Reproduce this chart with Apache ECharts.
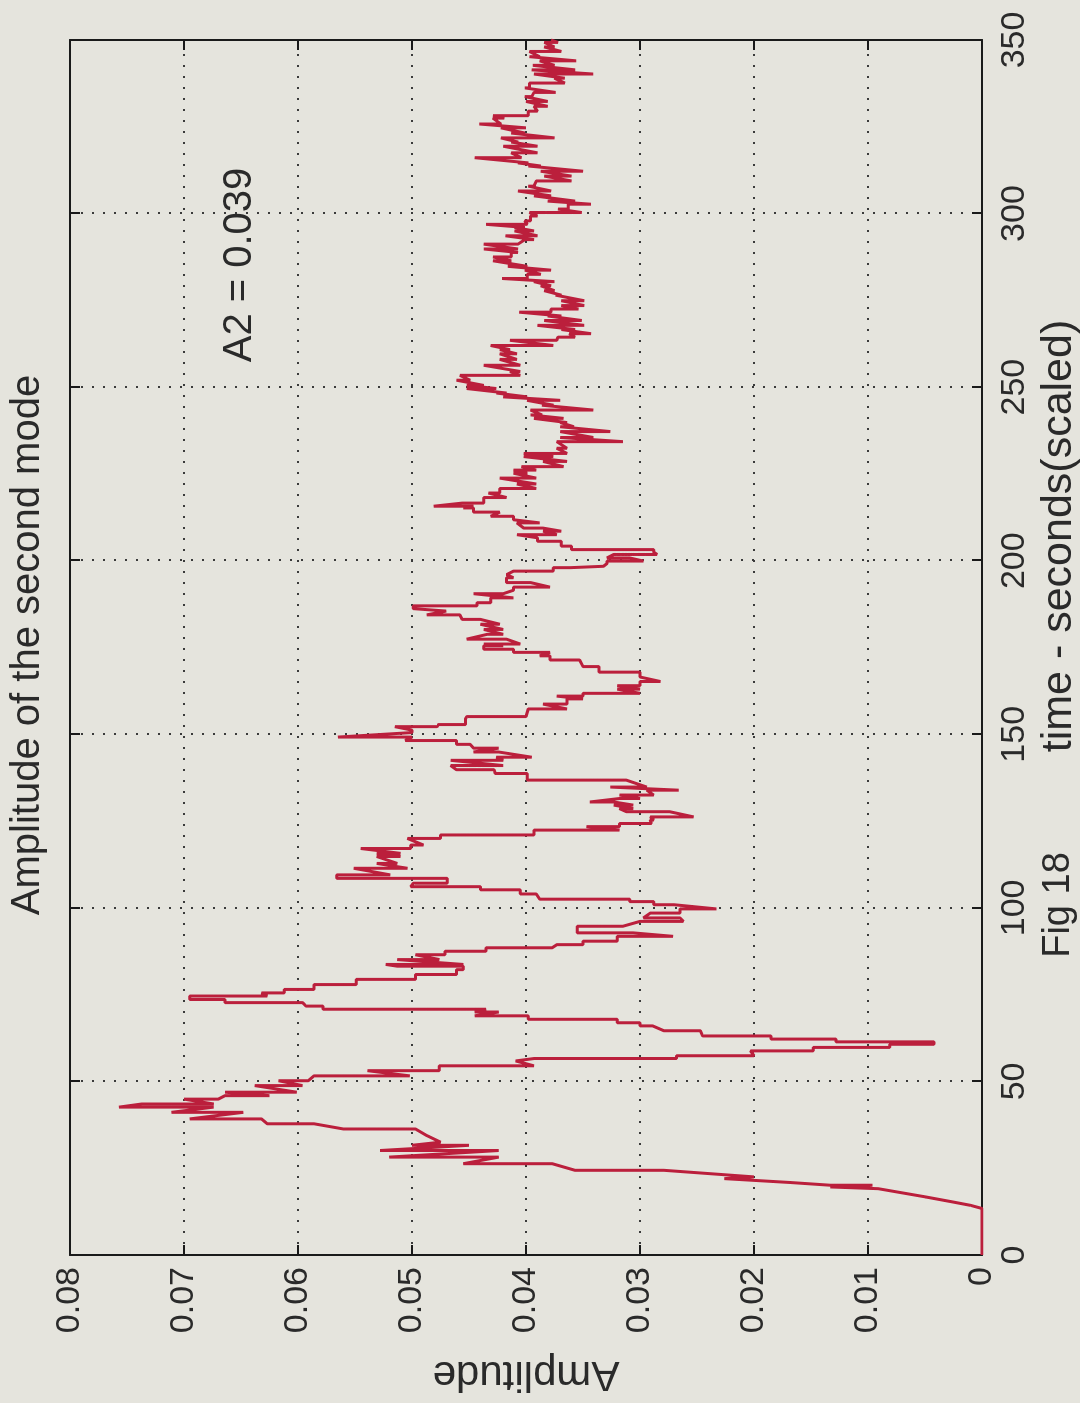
<!DOCTYPE html>
<html><head><meta charset="utf-8">
<script src="https://cdn.jsdelivr.net/npm/echarts@6/dist/echarts.min.js"></script>
<style>
html,body{margin:0;padding:0;width:1080px;height:1403px;overflow:hidden;background:#e5e4dd;}
#chart{position:absolute;left:0;top:0;width:1403px;height:1080px;transform-origin:0 0;transform:translateY(1403px) rotate(-90deg);}
</style></head><body><div id="chart"></div>
<script>
// time (scaled seconds) vs amplitude of the second mode
const amplitudeSeries = [
[0,0],[13.4,0],[14.3,0.001],[15.3,0.0026],[16.7,0.0049],[17.9,0.007],[19.1,0.0091],[19.6,0.0133],[20.1,0.0096],[20.1,0.0133],[20.9,0.0169],[22.0,0.0226],[22.5,0.020],[24.4,0.0279],[24.4,0.0357],[26.3,0.0377],[26.3,0.0455],[28.2,0.0424],[28.2,0.052],[30.1,0.0424],[30.1,0.0528],[31.6,0.045],[31.6,0.050],[32.5,0.0475],[34.4,0.0487],[36.3,0.0497],[36.3,0.056],[37.8,0.0586],[37.8,0.0627],[39.2,0.0632],[39.2,0.0695],[41.1,0.0648],[41.1,0.0711],[42.6,0.0674],[42.6,0.0757],[43.5,0.0737],[43.5,0.0674],[44.9,0.070],[44.9,0.067],[45.9,0.0664],[45.9,0.0625],[46.9,0.0664],[46.9,0.0601],[48.8,0.0638],[48.8,0.0596],[50.2,0.0617],[50.2,0.0591],[51.6,0.0586],[51.6,0.0502],[53.1,0.0539],[53.1,0.0476],[54.5,0.0476],[54.5,0.0393],[55.9,0.0409],[56.6,0.0393],[56.6,0.0268],[57.4,0.0268],[57.4,0.020],[58.8,0.0203],[58.8,0.0148],[59.8,0.0148],[59.8,0.0081],[60.7,0.0081],[60.7,0.0042],[61.4,0.0042],[61.4,0.0128],[62.2,0.0128],[62.2,0.0185],[63.1,0.0185],[63.1,0.0245],[64.6,0.0247],[64.6,0.0279],[66.0,0.0289],[66.0,0.030],[66.9,0.030],[66.9,0.032],[67.9,0.032],[67.9,0.0398],[68.9,0.0398],[68.9,0.0445],[70.0,0.0424],[70.0,0.0445],[70.8,0.0435],[70.8,0.0578],[71.7,0.0578],[71.7,0.0593],[72.7,0.0596],[72.7,0.0664],[73.6,0.0664],[73.6,0.0695],[74.6,0.0695],[74.6,0.0627],[75.5,0.0632],[75.5,0.0612],[76.5,0.0612],[76.5,0.0586],[77.9,0.0586],[77.9,0.0549],[79.4,0.0549],[79.4,0.0497],[80.8,0.0497],[80.8,0.0461],[82.2,0.0461],[82.2,0.0455],[83.2,0.0455],[83.2,0.0513],[83.7,0.0523],[83.7,0.0455],[85.1,0.0513],[85.1,0.0476],[86.5,0.0497],[86.5,0.0471],[87.5,0.0471],[87.5,0.0435],[88.5,0.0435],[88.5,0.0377],
[89.4,0.0373],[89.4,0.035],[90.4,0.035],[90.4,0.032],[91.8,0.032],[91.8,0.0271],[92.8,0.0306],[92.8,0.0355],[94.7,0.0355],[94.7,0.0315],[96.1,0.030],[96.1,0.0262],[97.1,0.0265],[97.1,0.0297],[98.5,0.0291],[98.5,0.0265],[99.7,0.0265],[99.7,0.0233],[100.9,0.027],[100.9,0.0288],[101.8,0.0288],[101.8,0.0309],[102.5,0.0309],[102.5,0.0388],[104.0,0.0391],[104.0,0.0405],[105.2,0.0405],[105.2,0.044],[106.1,0.044],[106.1,0.0501],[107.1,0.0499],[107.1,0.0469],[108.5,0.0469],[108.5,0.0566],[109.5,0.0566],[109.5,0.0519],[111.4,0.0551],[111.4,0.0504],[112.8,0.0531],[112.8,0.0513],[114.8,0.0531],[114.8,0.051],[115.7,0.0531],[115.7,0.051],[117.1,0.0545],[117.1,0.0501],[118.1,0.0501],[118.1,0.049],[120.0,0.0504],[120.0,0.0475],[121.0,0.0475],[121.0,0.0393],[122.4,0.0393],[122.4,0.0318],[123.4,0.0347],[123.4,0.0318],[124.3,0.0318],[124.3,0.029],[125.3,0.0291],[125.3,0.0288],[126.2,0.0291],[126.2,0.0253],[127.7,0.0274],[127.7,0.0312],[128.6,0.0318],[128.6,0.0306],[129.6,0.0323],[129.6,0.0306],[130.5,0.0323],[130.5,0.0344],[131.5,0.0318],[131.5,0.030],[132.5,0.0318],[132.5,0.0288],[133.9,0.0294],[133.9,0.0266],[134.8,0.0326],[134.8,0.0294],
[136.8,0.0312],[136.8,0.0399],[138.7,0.0399],[138.7,0.0427],[139.8,0.0428],[139.8,0.0461],[141.0,0.0466],[141.0,0.042],[142.5,0.0466],[142.5,0.042],[143.4,0.0426],[143.4,0.0395],[144.9,0.0424],[144.9,0.0446],[146.0,0.0424],[146.0,0.0446],[147.1,0.0449],[147.1,0.0461],[148.2,0.0461],[148.2,0.0506],[149.2,0.0500],[149.2,0.0565],[150.5,0.050],[151.2,0.050],[152.2,0.0515],[152.2,0.0478],[152.8,0.0477],[152.8,0.0453],[154.5,0.0453],[155.1,0.0452],[155.1,0.040],[157.3,0.0398],[157.3,0.0364],[158.7,0.0385],[158.7,0.0364],[160.2,0.0364],[160.2,0.035],[161.0,0.0373],[161.0,0.035],[161.8,0.035],[161.8,0.030],[163.0,0.032],[163.0,0.030],[164.0,0.032],[164.0,0.030],[165.2,0.030],[165.2,0.0282],[166.5,0.030],[167.9,0.030],[167.9,0.0336],[169.5,0.0336],[169.5,0.035],[171.4,0.0353],[171.4,0.0379],[172.6,0.0379],[172.6,0.0388],[173.6,0.0379],[173.6,0.0411],[174.5,0.0411],[174.5,0.0437],[175.5,0.0437],[175.5,0.042],
[176.0,0.0437],[176.0,0.0405],[177.4,0.0417],[177.4,0.0452],[178.8,0.0434],[178.8,0.042],[180.2,0.0437],[180.2,0.042],[181.7,0.044],[181.7,0.0423],[183.1,0.044],[183.1,0.0456],[184.4,0.0458],[184.4,0.0487],[185.5,0.0470],[186.2,0.0499],[187.0,0.0499],[187.0,0.0443],[187.9,0.0443],[187.9,0.0431],[189.3,0.0431],[189.3,0.0411],[190.5,0.0446],[190.5,0.042],[191.5,0.0411],[192.4,0.0411],[192.4,0.0379],[193.7,0.0396],[193.7,0.0417],[195.1,0.0417],[195.1,0.0411],[196.0,0.0417],[197.0,0.0411],[197.0,0.0376],[198.0,0.0376],[198.0,0.0361],[198.4,0.0361],[198.4,0.0332],[199.2,0.0329],[199.9,0.0329],[199.9,0.0297],[200.8,0.0309],[200.8,0.0329],[201.8,0.0323],[201.8,0.0285],[202.5,0.0288],[203.2,0.0288],[203.2,0.036],[204.2,0.036],[204.2,0.0369],[205.6,0.0369],[205.6,0.039],[206.6,0.039],[207.5,0.0408],[207.5,0.0373],[208.5,0.0385],[208.5,0.0369],[209.4,0.0385],[209.4,0.0402],[210.9,0.0408],[210.9,0.0388],[211.8,0.0411],[212.8,0.0411],[212.8,0.0431],[214.0,0.0423],[214.0,0.0446],[215.2,0.0446],[215.2,0.0455],[215.7,0.0446],[215.7,0.0481],[216.6,0.0456],[216.6,0.0437],[218.2,0.0437],[218.2,0.0417],
[219.5,0.0433],[219.5,0.0423],[220.8,0.0423],[220.8,0.0391],[222.1,0.0408],[222.1,0.0391],[223.8,0.0423],[223.8,0.0391],[225.2,0.0411],[225.2,0.0399],[226.1,0.0411],[226.1,0.0391],[227.1,0.0404],[227.1,0.0367],[228.6,0.0385],[228.6,0.0364],[230.0,0.0402],[230.0,0.0376],[230.9,0.0402],[230.9,0.0364],[232.4,0.0373],[232.4,0.0364],[234.3,0.0373],[234.3,0.0315],[235.5,0.037],[235.5,0.0341],[237.2,0.037],[237.2,0.0326],[238.6,0.037],[238.6,0.0358],[239.8,0.037],[239.8,0.0364],[241.0,0.0393],[241.0,0.0367],[242.0,0.0396],[242.0,0.0386],[243.4,0.0396],[243.4,0.0341],[244.8,0.0386],[244.8,0.0376],[246.2,0.0399],[246.2,0.037],[247.2,0.042],[247.2,0.0399],[248.3,0.0426],[248.3,0.0417],[249.6,0.0452],[249.6,0.0426],[250.5,0.0452],[250.5,0.0437],[252.0,0.0461],[252.0,0.0449],[253.4,0.0458],[253.4,0.0405],[254.5,0.0414],[254.5,0.0405],[256.3,0.0437],[256.3,0.0405],[258.0,0.0423],[258.0,0.0408],[259.6,0.0423],[259.6,0.0408],[260.8,0.0423],[260.8,0.0414],[262.0,0.0431],[262.0,0.0376],[263.5,0.0414],[263.5,0.0373],
[264.4,0.0372],[264.4,0.0357],[265.4,0.0362],[265.4,0.0343],[266.6,0.0369],[266.6,0.0357],[267.8,0.039],[267.8,0.0349],[269.2,0.0384],[269.2,0.0351],[270.5,0.0381],[270.5,0.0369],[271.6,0.0406],[271.6,0.0378],[272.5,0.0378],[272.5,0.0354],[273.5,0.0369],[273.5,0.0349],[274.9,0.0369],[274.9,0.0349],[276.5,0.0374],[276.5,0.0369],[277.8,0.0384],[277.8,0.0375],[279.2,0.0387],[279.2,0.0378],[280.4,0.0393],[280.4,0.0375],[281.3,0.0421],[281.3,0.0399],[282.5,0.0399],[282.5,0.0387],[283.7,0.0401],[283.7,0.0378],[284.8,0.0416],[284.8,0.0399],[286.4,0.0429],[286.4,0.0413],[287.5,0.0429],[287.5,0.0413],[288.8,0.0413],[288.8,0.0407],[289.8,0.0437],[289.8,0.0407],[291.2,0.0437],[291.2,0.0407],[292.5,0.0401],[292.5,0.0393],[293.6,0.0418],[293.6,0.039],[295.0,0.041],[295.0,0.0393],[296.0,0.041],[296.0,0.0401],[296.9,0.0435],[296.9,0.0399],[297.9,0.0401],[297.9,0.0396],[299.3,0.0396],[299.3,0.039],[300.3,0.0397],[300.3,0.0351],[301.3,0.0372],[301.3,0.0363],[302.7,0.0363],[302.7,0.0343],[303.6,0.0381],[303.6,0.0357],
[305.1,0.0393],[305.1,0.0378],[306.5,0.0407],[306.5,0.0378],[307.9,0.0398],[307.9,0.0393],[309.4,0.0391],[309.4,0.036],[310.8,0.0384],[310.8,0.036],[312.2,0.0387],[312.2,0.035],[313.7,0.0398],[313.7,0.0387],[314.6,0.0407],[314.6,0.0398],[316.1,0.0445],[316.1,0.0404],[317.5,0.0413],[317.5,0.039],[319.4,0.042],[319.4,0.039],[320.6,0.0413],[320.6,0.0407],[321.8,0.0422],[321.8,0.0375],[323.2,0.0413],[323.2,0.0401],[324.7,0.0422],[324.7,0.040],[325.8,0.0441],[325.8,0.0422],[327.5,0.0429],[327.5,0.0419],[328.2,0.0429],[328.2,0.0398],[329.5,0.0398],[329.5,0.039],[330.9,0.0393],[330.9,0.0381],[332.3,0.040],[332.3,0.0381],[333.7,0.0401],[333.7,0.0395],[334.9,0.0393],[334.9,0.0374],[336.2,0.0401],[336.2,0.0397],[337.6,0.0397],[337.6,0.0366],[339.0,0.0375],[339.0,0.0366],[340.2,0.0393],[340.2,0.0341],[341.4,0.0395],[341.4,0.0357],[342.7,0.0394],[342.7,0.0375],[344.0,0.0388],[344.0,0.0356],[345.2,0.0397],[345.2,0.0388],[346.7,0.0397],[346.7,0.0369],[348.0,0.0384],[348.0,0.0375],[349.3,0.0384],[349.3,0.0372],[350,0.0378]
];
const timeTickLabels = ['0','50','100','150','200','250','300','350'];
const ampTickLabels = ['0','0.01','0.02','0.03','0.04','0.05','0.06','0.07','0.08'];
const titleText = 'Amplitude of the second mode';
const xLabelText = 'time - seconds(scaled)';
const yLabelText = 'Amplitude';
const captionText = 'Fig 18';
const noteText = 'A2 = 0.039';

const FONT = '"Liberation Sans", Arial, sans-serif';
const TXT = '#2a2a2a';
const chart = echarts.init(document.getElementById('chart'), null, {renderer: 'canvas'});
const gridLine = {show: true, lineStyle: {color: '#3a3a3a', width: 2, type: [2, 9]}};
const axisLineStyle = {show: true, onZero: false, lineStyle: {color: '#1a1a1a', width: 2}};
const tickStyle = {show: true, inside: true, length: 10, lineStyle: {color: '#1a1a1a', width: 2}};
const ampFormatter = v => ampTickLabels[Math.round(v / 0.01)];
const timeFormatter = v => timeTickLabels[Math.round(v / 50)];

chart.setOption({
  animation: false,
  backgroundColor: '#e5e4dd',
  title: {
    text: titleText, left: 753, top: 3, textAlign: 'center',
    textStyle: {fontFamily: FONT, fontSize: 40, fontWeight: 'normal', color: TXT}
  },
  grid: {left: 143, right: 40, top: 70, bottom: 98, containLabel: false},
  xAxis: [
    {type: 'value', min: 0, max: 350, interval: 50, position: 'bottom',
     axisLine: axisLineStyle, axisTick: tickStyle, splitLine: gridLine,
     axisLabel: {fontFamily: FONT, fontSize: 34, color: TXT, margin: 16, formatter: timeFormatter}},
    {type: 'value', min: 0, max: 350, interval: 50, position: 'top',
     axisLine: axisLineStyle, axisTick: tickStyle, splitLine: {show: false}, axisLabel: {show: false}}
  ],
  yAxis: [
    {type: 'value', min: 0, max: 0.08, interval: 0.01, position: 'left',
     name: yLabelText, nameLocation: 'middle', nameRotate: 90, nameGap: 98,
     nameTextStyle: {fontFamily: FONT, fontSize: 42, color: TXT},
     axisLine: axisLineStyle, axisTick: tickStyle, splitLine: gridLine,
     axisLabel: {fontFamily: FONT, fontSize: 34, color: TXT, margin: 12, formatter: ampFormatter}},
    {type: 'value', min: 0, max: 0.08, interval: 0.01, position: 'right',
     axisLine: axisLineStyle, axisTick: tickStyle, splitLine: {show: false}, axisLabel: {show: false}}
  ],
  graphic: [
    {type: 'text', x: 867, y: 1059, style: {text: xLabelText, font: '43px ' + FONT, fill: TXT, textAlign: 'center', textVerticalAlign: 'middle'}},
    {type: 'text', x: 498, y: 1059, style: {text: captionText, font: '38px ' + FONT, fill: TXT, textAlign: 'center', textVerticalAlign: 'middle'}},
    {type: 'text', x: 1138, y: 240, style: {text: noteText, font: '40px ' + FONT, fill: TXT, textAlign: 'center', textVerticalAlign: 'middle'}}
  ],
  series: [{
    type: 'line', xAxisIndex: 0, yAxisIndex: 0, data: amplitudeSeries,
    showSymbol: false, symbol: 'none',
    lineStyle: {color: '#bb1f3c', width: 3}
  }]
});
</script></body></html>
